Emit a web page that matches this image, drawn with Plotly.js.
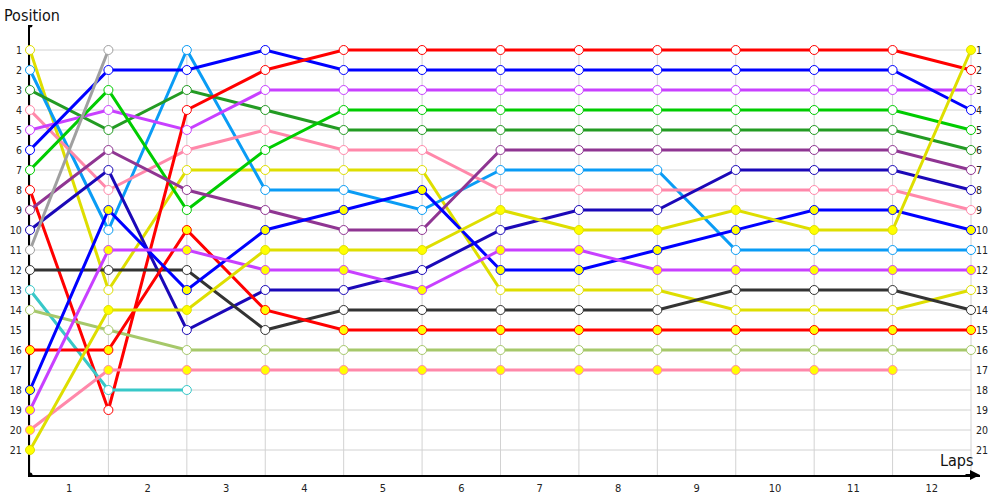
<!DOCTYPE html>
<html><head><meta charset="utf-8">
<script src="https://cdn.plot.ly/plotly-3.0.1.min.js"></script>
<style>html,body{margin:0;padding:0;background:#fff}#chart{width:1000px;height:500px}</style>
</head><body><div id="chart"></div>
<script>
// ---- data ----
const laps = [0,1,2,3,4,5,6,7,8,9,10,11,12];
const lapLabels = ['1','2','3','4','5','6','7','8','9','10','11','12'];
const positions = [1,2,3,4,5,6,7,8,9,10,11,12,13,14,15,16,17,18,19,20,21];

// first group (white markers), listed by starting position
const yellowA = [1,13,7,7,7,7,13,13,13,14,14,14,13];
const skyBlue = [2,10,1,8,8,9,7,7,7,11,11,11,11];
const forest  = [3,5,3,4,5,5,5,5,5,5,5,5,6];
const pinkA   = [4,8,6,5,6,6,8,8,8,8,8,8,9];
const violetA = [5,4,5,3,3,3,3,3,3,3,3,3,3];
const blueA   = [6,2,2,1,2,2,2,2,2,2,2,2,4];
const green   = [7,3,9,6,4,4,4,4,4,4,4,4,5];
const redA    = [8,19,4,2,1,1,1,1,1,1,1,1,2];
const purple  = [9,6,8,9,10,10,6,6,6,6,6,6,7];
const navy    = [10,7,15,13,13,12,10,9,9,7,7,7,8];
const grey    = [11,1,null,null,null,null,null,null,null,null,null,null,null];
const darkGrey= [12,12,12,15,14,14,14,14,14,13,13,13,14];
const teal    = [13,18,18,null,null,null,null,null,null,null,null,null,null];
const olive   = [14,15,16,16,16,16,16,16,16,16,16,16,16];
// second group (yellow markers)
const redB    = [16,16,10,14,15,15,15,15,15,15,15,15,15];
const blueB   = [18,9,13,10,9,8,12,12,11,10,9,9,10];
const violetB = [19,11,11,12,12,13,11,11,12,12,12,12,12];
const pinkB   = [20,17,17,17,17,17,17,17,17,17,17,17,null];
const yellowB = [21,14,14,11,11,11,9,10,10,9,10,10,1];

// ---- styling ----
const series = [
  {name:'Yellow A', y:yellowA, color:'#dede00', fill:'#ffffff'},
  {name:'Sky blue', y:skyBlue, color:'#0a9cf5', fill:'#ffffff'},
  {name:'Forest',   y:forest,  color:'#239b23', fill:'#ffffff'},
  {name:'Pink A',   y:pinkA,   color:'#ff88aa', fill:'#ffffff'},
  {name:'Violet A', y:violetA, color:'#c840ff', fill:'#ffffff'},
  {name:'Blue A',   y:blueA,   color:'#0000ff', fill:'#ffffff'},
  {name:'Green',    y:green,   color:'#00cc00', fill:'#ffffff'},
  {name:'Red A',    y:redA,    color:'#ff0000', fill:'#ffffff'},
  {name:'Purple',   y:purple,  color:'#8f3592', fill:'#ffffff'},
  {name:'Navy',     y:navy,    color:'#1b08b8', fill:'#ffffff'},
  {name:'Grey',     y:grey,    color:'#a0a0a0', fill:'#ffffff'},
  {name:'Dark grey',y:darkGrey,color:'#333333', fill:'#ffffff'},
  {name:'Teal',     y:teal,    color:'#38c8c8', fill:'#ffffff'},
  {name:'Olive',    y:olive,   color:'#a6c86a', fill:'#ffffff'},
  {name:'Red B',    y:redB,    color:'#ff0000', fill:'#ffff00'},
  {name:'Blue B',   y:blueB,   color:'#0000ff', fill:'#ffff00'},
  {name:'Violet B', y:violetB, color:'#c840ff', fill:'#ffff00'},
  {name:'Pink B',   y:pinkB,   color:'#ff88aa', fill:'#ffff00'},
  {name:'Yellow B', y:yellowB, color:'#dede00', fill:'#ffff00'}
];

const FONT = '"DejaVu Sans Condensed","DejaVu Sans",Tahoma,sans-serif';
const traces = [];
series.forEach(s => traces.push({
  type:'scatter', mode:'lines', x:laps, y:s.y, name:s.name, cliponaxis:false,
  line:{color:s.color, width:3}, connectgaps:false, showlegend:false, hoverinfo:'skip'
}));
series.forEach(s => traces.push({
  type:'scatter', mode:'markers', x:laps, y:s.y, name:s.name, cliponaxis:false,
  marker:{size:9, color:s.fill, line:{color:s.color, width:1}},
  showlegend:false, hoverinfo:'skip'
}));
// invisible trace to carry the right-hand position axis
traces.push({type:'scatter', mode:'markers', x:laps.map(()=>laps[laps.length-1]), y:positions.slice(0,laps.length),
  yaxis:'y2', marker:{opacity:0}, showlegend:false, hoverinfo:'skip'});

const xMax = laps[laps.length-1];
const xEnd = xMax * 950/941;
const yTop = -0.25, yBot = positions[positions.length-1] + 1.25;

const shapes = [];
positions.forEach(p => shapes.push({type:'line', xref:'x', yref:'y', x0:laps[0], x1:xMax, y0:p, y1:p,
  line:{color:'#d2d2d2', width:1}, layer:'below'}));
laps.forEach(l => shapes.push({type:'line', xref:'x', yref:'y', x0:l, x1:l, y0:0.75, y1:yBot,
  line:{color:'#d2d2d2', width:1}, layer:'below'}));
// axis end dots
shapes.push({type:'circle', xref:'x', yref:'y', xsizemode:'pixel', ysizemode:'pixel',
  xanchor:0, yanchor:yTop, x0:-2.5, x1:2.5, y0:-2.5, y1:2.5, fillcolor:'#000', line:{width:0}, layer:'below'});
shapes.push({type:'circle', xref:'x', yref:'y', xsizemode:'pixel', ysizemode:'pixel',
  xanchor:0, yanchor:yBot, x0:-2.5, x1:2.5, y0:-2.5, y1:2.5, fillcolor:'#000', line:{width:0}, layer:'below'});

const layout = {
  width:1000, height:500,
  margin:{l:30, r:20, t:25, b:25},
  paper_bgcolor:'#fff', plot_bgcolor:'#fff',
  hovermode:false,
  title:{text:'Position', x:0.004, xanchor:'left', y:0.97, yanchor:'middle',
    font:{family:FONT, size:16, color:'#111'}},
  xaxis:{range:[0, xEnd], showgrid:false, zeroline:false, tickvals:lapLabels.map((t,i)=>laps[i]+0.5),
    ticktext:lapLabels, ticks:'', showline:true, linecolor:'#000', linewidth:2, layer:'below traces',
    ticklabelstandoff:2, tickfont:{family:FONT, size:11, color:'#222'}, fixedrange:true},
  yaxis:{range:[yBot, yTop], showgrid:false, zeroline:false, tickvals:positions,
    ticktext:positions.map(String), ticks:'', showline:true, linecolor:'#000', linewidth:2, layer:'below traces',
    ticklabelstandoff:4, tickfont:{family:FONT, size:10.5, color:'#222'}, fixedrange:true},
  yaxis2:{range:[yBot, yTop], overlaying:'y', side:'right', anchor:'free', position:xMax/xEnd,
    showgrid:false, zeroline:false, tickvals:positions, ticktext:positions.map(String), ticks:'',
    ticklabelstandoff:4, showline:false, tickfont:{family:FONT, size:10.5, color:'#222'}, fixedrange:true},
  shapes:shapes,
  annotations:[
    {xref:'paper', yref:'paper', x:1, y:0, ax:-16, ay:0, showarrow:true, arrowhead:2, arrowsize:1,
      arrowwidth:2, arrowcolor:'#000', text:''},
    {xref:'paper', yref:'paper', x:945/950, y:0.006, xanchor:'right', yanchor:'bottom', showarrow:false,
      text:'Laps', font:{family:FONT, size:16, color:'#111'}}
  ]
};

Plotly.newPlot('chart', traces, layout, {displayModeBar:false, staticPlot:true});
</script>
</body></html>
